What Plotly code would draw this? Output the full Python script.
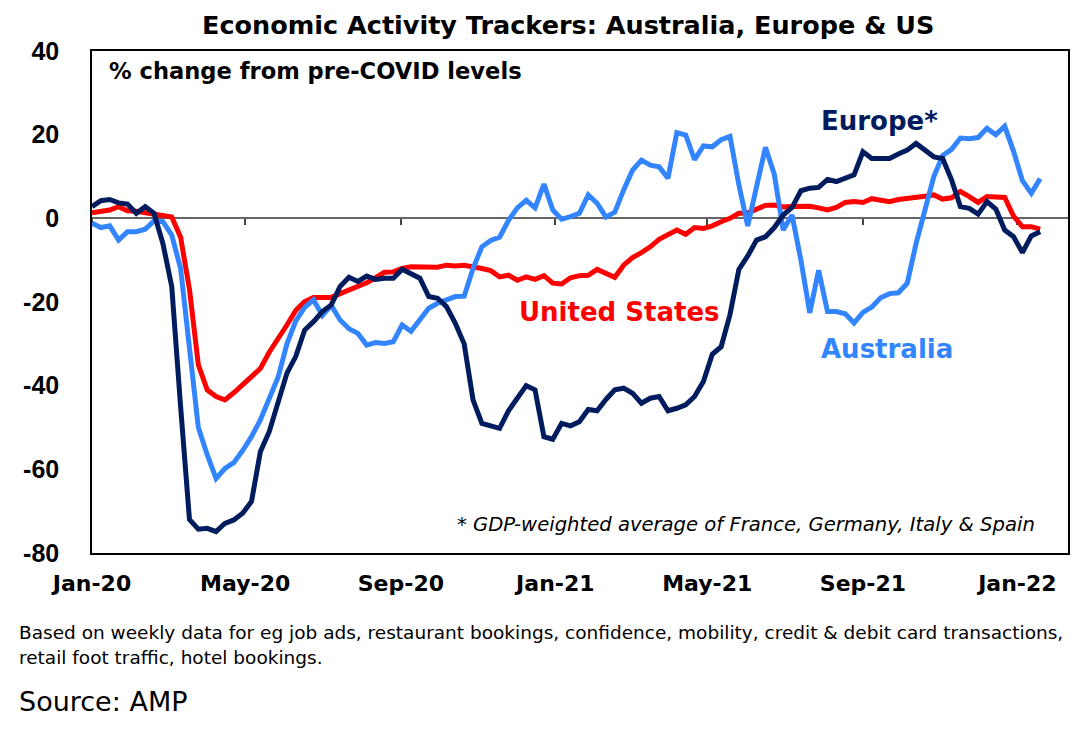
import pandas as pd
import plotly.graph_objects as go

start_date = "2020-01-01"
n_weeks = 108
dates = pd.date_range(start_date, periods=n_weeks, freq="7D")

europe = [2.8, 4.2, 4.5, 3.7, 3.4, 1.2, 2.8, 1.2, -6, -16.3,
          -45, -72, -74.3, -74.1, -74.9, -72.9, -72.1, -70.5, -67.7, -55.8,
          -51, -44, -37, -33, -26.7, -24.7, -22.3, -20.7, -16.3, -14.1,
          -15.1, -13.8, -14.6, -14.3, -14.3, -12.2, -13.1, -14.3, -18.7, -19.1,
          -21.1, -25.1, -30, -43.4, -49, -49.6, -50.2, -46, -43, -40,
          -41, -52.2, -52.8, -49, -49.6, -48.6, -45.7, -46, -43.3, -41,
          -40.6, -41.8, -44.2, -43, -42.6, -46, -45.4, -44.6, -42.6, -39,
          -32.5, -30.7, -23, -12.2, -9, -5.2, -4.4, -2.2, 0.8, 2.6,
          6.6, 7.2, 7.4, 9.3, 8.8, 9.7, 10.4, 15.9, 14.3, 14.3,
          14.3, 15.4, 16.3, 17.9, 16.3, 14.7, 14.3, 9.2, 2.8, 2.4,
          1.0, 4.0, 2.2, -2.8, -4.4, -8.2, -4.2, -3.2]

united_states = [1.3, 1.6, 2.0, 2.8, 1.8, 1.7, 1.4, 1.2, 0.9, 0.3,
                 -4.5, -17, -35, -41, -42.6, -43.4, -41.7, -39.8, -37.5, -35.9,
                 -32, -29, -25.5, -22, -19.9, -18.9, -18.9, -18.9, -18, -17.2,
                 -16.2, -15.4, -14.2, -12.9, -12.8, -12, -11.6, -11.6, -11.5, -11.7,
                 -11.2, -11.4, -11.2, -11.5, -12, -12.5, -14, -13.6, -14.8, -14,
                 -14.6, -13.7, -15.5, -15.7, -14.2, -13.7, -13.6, -12.2, -13, -14.1,
                 -11.2, -9.4, -8.2, -6.8, -5, -3.8, -2.8, -3.8, -2.2, -2.4,
                 -1.8, -0.8, 0, 1.2, 1.3, 2.2, 3.1, 3.2, 2.7, 2.8,
                 2.8, 2.9, 2.5, 2.0, 2.6, 3.8, 4.0, 3.8, 4.7, 4.2,
                 4.0, 4.5, 4.7, 4.8, 5.3, 5.6, 4.6, 4.9, 6.4, 5.2,
                 3.8, 5.2, 5.0, 5.0, 0.5, -2.0, -2.0, -2.6]

australia = [-1.2, -2.2, -1.8, -5.2, -3.2, -3.2, -2.6, -0.6, -0.8, -4,
             -12, -30, -50, -56.5, -62.2, -59.8, -58.4, -55.5, -52.2, -48.2,
             -43, -38, -30, -24.5, -21.3, -19.5, -23.2, -20.8, -24.3, -26.4,
             -27.5, -30.3, -29.7, -29.9, -29.5, -25.5, -27, -24, -21.5, -20.3,
             -19.5, -18.7, -18.6, -12, -6.8, -5.3, -4.5, -0.5, 2.5, 4.3,
             2.5, 8.2, 2, -0.2, 0.4, 1.2, 5.6, 3.6, 0.3, 1.5,
             6.8, 11.5, 13.9, 12.7, 12.3, 9.6, 20.5, 19.9, 14, 17.3,
             17.1, 18.8, 19.6, 8, -1.8, 7.5, 17, 10.5, -2.8, 0.8,
             -10, -22.6, -12.4, -22.3, -22.3, -22.8, -25, -22.5, -21.2, -19,
             -18, -17.8, -15.5, -6, 1.5, 10, 15, 16.5, 19.2, 19,
             19.3, 21.5, 20, 22, 16, 9, 6, 9.5]

tick_dates = ["2020-01-01", "2020-05-01", "2020-09-01", "2021-01-01",
              "2021-05-01", "2021-09-01", "2022-01-01"]
tick_labels = ["Jan-20", "May-20", "Sep-20", "Jan-21", "May-21", "Sep-21", "Jan-22"]
y_ticks = [40, 20, 0, -20, -40, -60, -80]
y_tick_labels = ["40", "20", "0", "-20", "-40", "-60", "-80"]

C_EU = "#001C5E"
C_US = "#FF0000"
C_AU = "#3385FF"
BOLD = "DejaVu Sans"

fig = go.Figure()
fig.add_trace(go.Scatter(x=dates, y=united_states, mode="lines", name="United States",
                         line=dict(color=C_US, width=5)))
fig.add_trace(go.Scatter(x=dates, y=australia, mode="lines", name="Australia",
                         line=dict(color=C_AU, width=5)))
fig.add_trace(go.Scatter(x=dates, y=europe, mode="lines", name="Europe*",
                         line=dict(color=C_EU, width=5)))
# carrier for the zero-line axis with tick marks
fig.add_trace(go.Scatter(x=[dates[0]], y=[None], xaxis="x2", mode="lines",
                         showlegend=False, hoverinfo="skip"))

x_range = ["2020-01-01", "2022-02-10"]

fig.update_layout(
    width=1079, height=724,
    margin=dict(l=84, r=19, t=43, b=179),
    plot_bgcolor="white", paper_bgcolor="white",
    showlegend=False,
    xaxis=dict(range=x_range, tickvals=tick_dates, ticktext=tick_labels,
               showgrid=False, zeroline=False, showline=True, mirror=True,
               linecolor="black", linewidth=1.5, ticks="",
               ticklabelstandoff=10,
               tickfont=dict(family=BOLD, size=22, color="black", weight="bold")),
    xaxis2=dict(range=x_range, tickvals=tick_dates, showticklabels=False,
                overlaying="x", anchor="free", position=2/3,
                showgrid=False, zeroline=False, showline=True,
                linecolor="#666666", linewidth=1.5,
                ticks="outside", ticklen=6, tickwidth=1.5, tickcolor="#444444",
                layer="below traces"),
    yaxis=dict(range=[-80, 40], tickvals=y_ticks, ticktext=y_tick_labels,
               showgrid=False, zeroline=False,
               showline=True, mirror=True, linecolor="black", linewidth=1.5,
               ticks="", ticklabelstandoff=26,
               tickfont=dict(family="Liberation Sans", size=25, color="black", weight="bold")),
)

ann = [
    dict(text="Economic Activity Trackers: Australia, Europe & US",
         xref="paper", yref="paper", x=0.4877, y=1.0518, showarrow=False,
         xanchor="center", yanchor="middle",
         font=dict(family=BOLD, size=25.5, color="black", weight="bold")),
    dict(text="% change from pre-COVID levels", xref="paper", yref="paper",
         x=0.0154, y=0.960, showarrow=False, xanchor="left", yanchor="middle",
         font=dict(family=BOLD, size=22.6, color="black", weight="bold")),
    dict(text="Europe*", x="2021-09-14", y=23.3, showarrow=False,
         xanchor="center", yanchor="middle",
         font=dict(family=BOLD, size=26, color=C_EU, weight="bold")),
    dict(text="United States", x="2021-02-21", y=-22.4, showarrow=False,
         xanchor="center", yanchor="middle",
         font=dict(family=BOLD, size=26, color=C_US, weight="bold")),
    dict(text="Australia", x="2021-09-20", y=-31.2, showarrow=False,
         xanchor="center", yanchor="middle",
         font=dict(family=BOLD, size=26, color=C_AU, weight="bold")),
    dict(text="<i>* GDP-weighted average of France, Germany, Italy & Spain</i>",
         xref="paper", yref="paper", x=0.968, y=0.0558, showarrow=False,
         xanchor="right", yanchor="middle",
         font=dict(family="DejaVu Sans", size=19.6, color="black")),
    dict(text="Based on weekly data for eg job ads, restaurant bookings, confidence, mobility, credit & debit card transactions,",
         xref="paper", yref="paper", x=-0.0768, y=-0.159, showarrow=False,
         xanchor="left", yanchor="middle",
         font=dict(family="DejaVu Sans", size=18.5, color="black")),
    dict(text="retail foot traffic, hotel bookings.",
         xref="paper", yref="paper", x=-0.0768, y=-0.209, showarrow=False,
         xanchor="left", yanchor="middle",
         font=dict(family="DejaVu Sans", size=18.5, color="black")),
    dict(text="Source: AMP",
         xref="paper", yref="paper", x=-0.0768, y=-0.295, showarrow=False,
         xanchor="left", yanchor="middle",
         font=dict(family="DejaVu Sans", size=27, color="black")),
]
fig.update_layout(annotations=ann)

fig.write_html("out.html")
